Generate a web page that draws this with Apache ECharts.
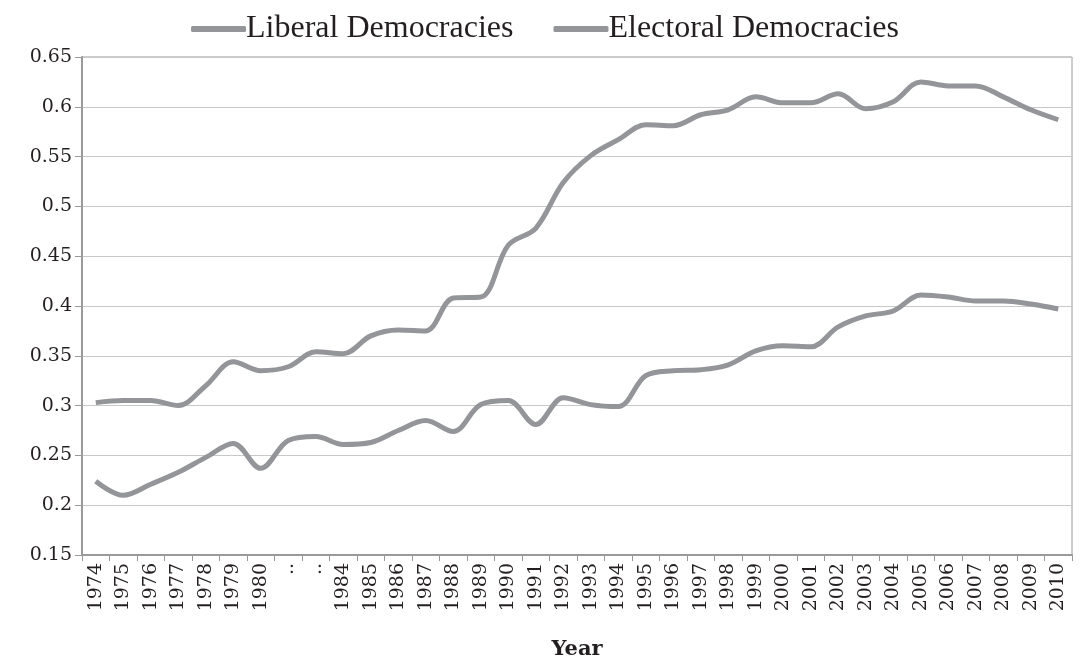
<!DOCTYPE html>
<html>
<head>
<meta charset="utf-8">
<script src="https://cdn.jsdelivr.net/npm/echarts@6/dist/echarts.min.js"></script>
<style>
  html, body { margin: 0; padding: 0; background: #fff; }
  #chart { width: 1090px; height: 667px; }
</style>
</head>
<body>
<div id="chart"></div>
<script>
// categories on the x axis (".." marks the skipped years)
var years = ['1974', '1975', '1976', '1977', '1978', '1979', '1980', '..', '..',
  '1984', '1985', '1986', '1987', '1988', '1989', '1990', '1991', '1992', '1993',
  '1994', '1995', '1996', '1997', '1998', '1999', '2000', '2001', '2002', '2003',
  '2004', '2005', '2006', '2007', '2008', '2009', '2010'];

var liberal = [0.224, 0.210, 0.221, 0.233, 0.248, 0.262, 0.237, 0.265, 0.269,
  0.261, 0.263, 0.275, 0.285, 0.274, 0.301, 0.305, 0.281, 0.308, 0.301,
  0.299, 0.330, 0.335, 0.336, 0.341, 0.355, 0.360, 0.359, 0.379, 0.390,
  0.395, 0.411, 0.409, 0.405, 0.405, 0.402, 0.397];

var electoral = [0.303, 0.305, 0.305, 0.300, 0.320, 0.344, 0.335, 0.339, 0.354,
  0.352, 0.370, 0.376, 0.375, 0.408, 0.409, 0.461, 0.478, 0.524, 0.551,
  0.567, 0.582, 0.581, 0.592, 0.597, 0.610, 0.604, 0.604, 0.613, 0.598,
  0.605, 0.625, 0.621, 0.621, 0.610, 0.597, 0.587];

var lineColor = '#939598';
var axisColor = '#9a9a9a';
var textColor = '#231f20';

var chart = echarts.init(document.getElementById('chart'));
chart.setOption({
  animation: false,
  legend: {
    top: 8,
    left: 'center',
    icon: 'roundRect',
    itemWidth: 55,
    itemHeight: 6,
    itemGap: 40,
    textStyle: {
      fontFamily: 'Liberation Serif',
      fontSize: 32,
      color: textColor,
      padding: [0, 0, 0, -5]
    },
    data: ['Liberal Democracies', 'Electoral Democracies']
  },
  grid: {
    left: 82,
    right: 18,
    top: 57,
    bottom: 112,
    show: true,
    borderColor: axisColor,
    borderWidth: 1
  },
  xAxis: {
    type: 'category',
    data: years,
    boundaryGap: true,
    name: 'Year',
    nameLocation: 'middle',
    nameGap: 84,
    nameTextStyle: {
      fontFamily: 'DejaVu Serif',
      fontWeight: 'bold',
      fontSize: 21,
      color: textColor
    },
    axisLine: { lineStyle: { color: axisColor, width: 2 } },
    axisTick: { show: true, length: 6, lineStyle: { color: axisColor } },
    axisLabel: {
      interval: 0,
      rotate: 90,
      margin: 8,
      fontFamily: 'DejaVu Serif',
      fontSize: 19,
      color: textColor
    }
  },
  yAxis: {
    type: 'value',
    min: 0.15,
    max: 0.65,
    interval: 0.05,
    axisLine: { show: true, lineStyle: { color: axisColor, width: 2 } },
    axisTick: { show: true, length: 7, lineStyle: { color: axisColor } },
    axisLabel: {
      margin: 10,
      fontFamily: 'DejaVu Serif',
      fontSize: 19,
      color: textColor,
      formatter: function (v) { return String(+v.toFixed(2)); }
    },
    splitLine: { show: true, lineStyle: { color: '#c8c8c8', width: 1 } }
  },
  series: [
    {
      name: 'Liberal Democracies',
      type: 'line',
      data: liberal,
      smooth: 0.35,
      symbol: 'none',
      color: lineColor,
      lineStyle: { color: lineColor, width: 5 }
    },
    {
      name: 'Electoral Democracies',
      type: 'line',
      data: electoral,
      smooth: 0.35,
      symbol: 'none',
      color: lineColor,
      lineStyle: { color: lineColor, width: 5 }
    }
  ]
});
</script>
</body>
</html>
